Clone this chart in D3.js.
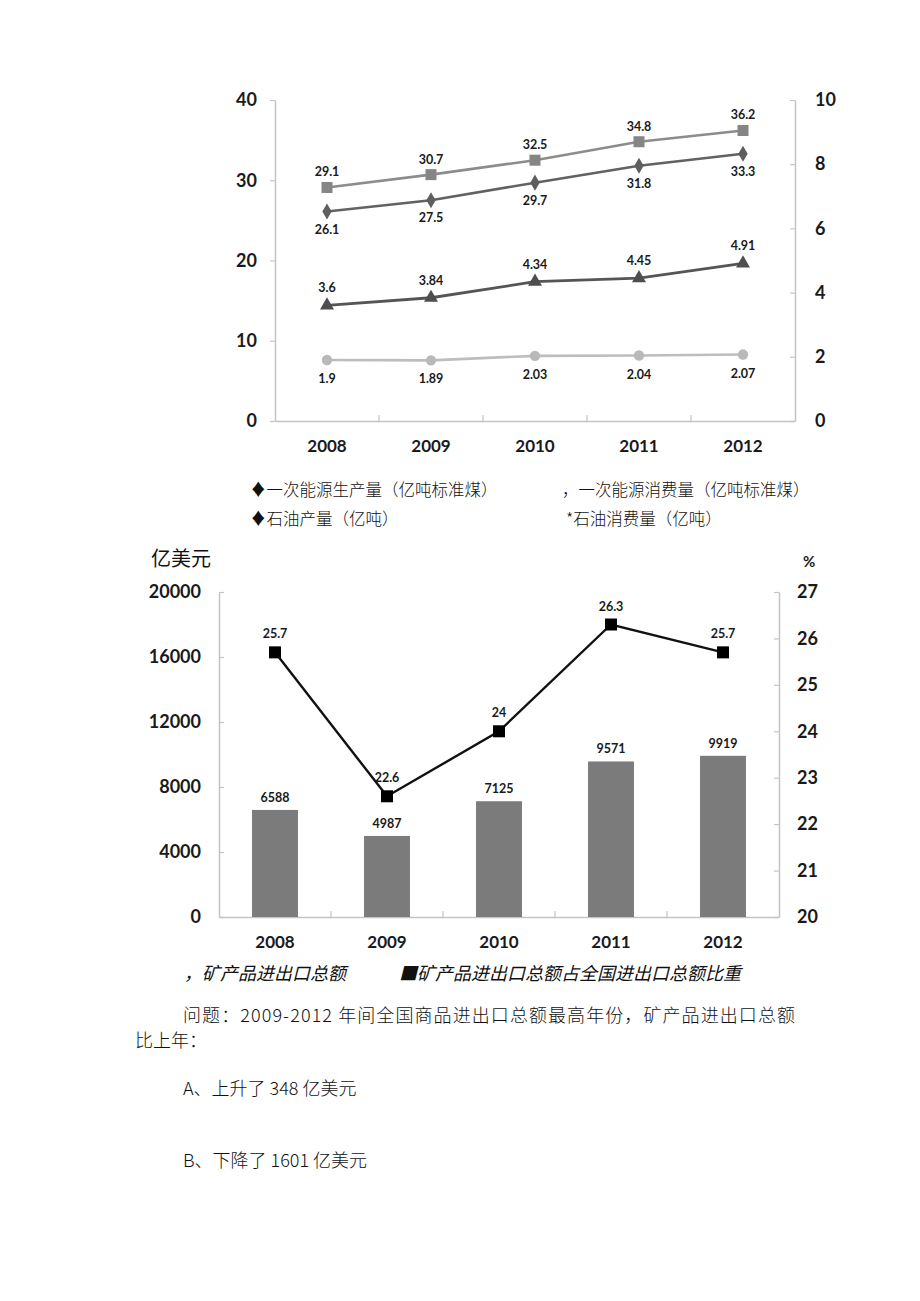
<!DOCTYPE html>
<html><head><meta charset="utf-8">
<script src="https://cdn.jsdelivr.net/npm/d3@7"></script>
<style>
body{margin:0;background:#fff;}
svg{display:block;}
.num{font-family:Lato,"Open Sans",sans-serif;font-weight:bold;fill:#1a1a1a;}
.cjk{font-family:"Noto Sans CJK SC",sans-serif;fill:#111;}
</style></head><body>
<script>
// ---------- data ----------
const years = ["2008","2009","2010","2011","2012"];
const energyConsumption = [29.1, 30.7, 32.5, 34.8, 36.2];   // squares, left axis
const energyProduction  = [26.1, 27.5, 29.7, 31.8, 33.3];   // diamonds, left axis
const oilConsumption    = [3.6, 3.84, 4.34, 4.45, 4.91];    // triangles, right axis
const oilProduction     = [1.9, 1.89, 2.03, 2.04, 2.07];    // circles, right axis
const topLeftTicks  = [0, 10, 20, 30, 40];
const topRightTicks = [0, 2, 4, 6, 8, 10];

const mineralTrade = [6588, 4987, 7125, 9571, 9919];         // bars, left axis
const mineralShare = [25.7, 22.6, 24, 26.3, 25.7];           // line, right axis
const botLeftTicks  = [0, 4000, 8000, 12000, 16000, 20000];
const botRightTicks = [20, 21, 22, 23, 24, 25, 26, 27];

const W = 920, H = 1301;
const svg = d3.select("body").append("svg").attr("width", W).attr("height", H);
svg.append("rect").attr("width", W).attr("height", H).attr("fill", "#fff");

const axisCol = "#c4c4c4";
const fmtInt = d3.format("d");
function styleAxis(g, fs){
  g.select(".domain").attr("stroke", axisCol).attr("stroke-width", 1.5);
  g.selectAll(".tick line").attr("stroke", axisCol).attr("stroke-width", 1.2);
  g.selectAll(".tick text").attr("class","num").style("font-size", fs+"px").attr("fill","#1a1a1a");
}

// ---------- top chart ----------
const tx = d3.scaleBand().domain(years).range([275, 795]);
const tyL = d3.scaleLinear().domain([0, 40]).range([421, 100]);
const tyR = d3.scaleLinear().domain([0, 10]).range([421, 100]);
const cx = d => tx(d) + tx.bandwidth()/2;

const gL = svg.append("g").attr("transform","translate(275,0)")
  .call(d3.axisLeft(tyL).tickValues(topLeftTicks).tickFormat(fmtInt).tickSize(5).tickPadding(13).tickSizeOuter(0));
styleAxis(gL, 18);
const gR = svg.append("g").attr("transform","translate(795,0)")
  .call(d3.axisRight(tyR).tickValues(topRightTicks).tickFormat(fmtInt).tickSize(-5).tickPadding(20).tickSizeOuter(0));
styleAxis(gR, 18);
const gB = svg.append("g").attr("transform","translate(0,421)")
  .call(d3.axisBottom(tx).tickSize(0).tickPadding(19));
styleAxis(gB, 17);
gB.selectAll("line.bnd").data(years.slice(1)).enter().append("line")
  .attr("x1", d=>tx(d)).attr("x2", d=>tx(d)).attr("y1",0).attr("y2",-6)
  .attr("stroke", axisCol).attr("stroke-width",1.2);

function series(vals, yScale, col, lw){
  const line = d3.line().x((d,i)=>cx(years[i])).y(d=>yScale(d));
  svg.append("path").datum(vals).attr("d", line).attr("fill","none")
    .attr("stroke", col).attr("stroke-width", lw);
}
function labels(vals, yScale, dy){
  svg.append("g").selectAll("text").data(vals).enter().append("text")
    .attr("class","num").style("font-size","12.5px").attr("text-anchor","middle")
    .attr("x",(d,i)=>cx(years[i])).attr("y", d=>yScale(d)+dy).text(d=>d);
}

series(energyConsumption, tyL, "#8c8c8c", 2.6);
series(energyProduction, tyL, "#626262", 2.6);
series(oilConsumption, tyR, "#555555", 2.8);
series(oilProduction, tyR, "#bdbdbd", 2.6);

svg.append("g").selectAll("rect").data(energyConsumption).enter().append("rect")
  .attr("x",(d,i)=>cx(years[i])-5.5).attr("y",d=>tyL(d)-5.5).attr("width",11).attr("height",11)
  .attr("fill","#858585");
svg.append("g").selectAll("path").data(energyProduction).enter().append("path")
  .attr("d", d3.symbol().type(d3.symbolDiamond).size(75))
  .attr("transform",(d,i)=>`translate(${cx(years[i])},${tyL(d)})`).attr("fill","#5e5e5e");
svg.append("g").selectAll("path").data(oilConsumption).enter().append("path")
  .attr("d", d3.symbol().type(d3.symbolTriangle).size(85))
  .attr("transform",(d,i)=>`translate(${cx(years[i])},${tyR(d)})`).attr("fill","#4e4e4e");
svg.append("g").selectAll("circle").data(oilProduction).enter().append("circle")
  .attr("cx",(d,i)=>cx(years[i])).attr("cy",d=>tyR(d)).attr("r",5.2).attr("fill","#b9b9b9");

labels(energyConsumption, tyL, -11);
labels(energyProduction, tyL, 22);
labels(oilConsumption, tyR, -13);
labels(oilProduction, tyR, 23);

const legTop = [
  ["♦一次能源生产量（亿吨标准煤）", 250, 496],
  ["，一次能源消费量（亿吨标准煤）", 562, 496],
  ["♦石油产量（亿吨）", 250, 525],
  ["*石油消费量（亿吨）", 566, 525]
];
svg.append("g").selectAll("text").data(legTop).enter().append("text")
  .attr("class","cjk").style("font-size","16.5px").style("font-weight","300")
  .attr("x",d=>d[1]).attr("y",d=>d[2]).text(d=>d[0]);

// ---------- bottom chart ----------
const bx = d3.scaleBand().domain(years).range([219, 779]).paddingInner(0.59).paddingOuter(0.295);
const bxc = d3.scaleBand().domain(years).range([219, 779]);
const byL = d3.scaleLinear().domain([0, 20000]).range([917, 592]);
const byR = d3.scaleLinear().domain([20, 27]).range([917, 592]);
const bcx = d => bxc(d) + bxc.bandwidth()/2;

svg.append("text").attr("class","cjk").style("font-size","20px").attr("x",151).attr("y",566).text("亿美元");
svg.append("text").attr("class","num").style("font-size","15px").attr("x",803).attr("y",567).text("%");

const bL = svg.append("g").attr("transform","translate(219,0)")
  .call(d3.axisLeft(byL).tickValues(botLeftTicks).tickFormat(fmtInt).tickSize(-5).tickPadding(18).tickSizeOuter(0));
styleAxis(bL, 18);
const bR = svg.append("g").attr("transform","translate(779,0)")
  .call(d3.axisRight(byR).tickValues(botRightTicks).tickFormat(fmtInt).tickSize(-5).tickPadding(18).tickSizeOuter(0));
styleAxis(bR, 18);
const bB = svg.append("g").attr("transform","translate(0,917)")
  .call(d3.axisBottom(bxc).tickSize(0).tickPadding(19));
styleAxis(bB, 17);
bB.selectAll("line.bnd").data(years.slice(1)).enter().append("line")
  .attr("x1", d=>bxc(d)).attr("x2", d=>bxc(d)).attr("y1",0).attr("y2",-6)
  .attr("stroke", axisCol).attr("stroke-width",1.2);

svg.append("g").selectAll("rect").data(mineralTrade).enter().append("rect")
  .attr("x",(d,i)=>bx(years[i])).attr("width",bx.bandwidth())
  .attr("y",d=>byL(d)).attr("height",d=>917-byL(d)).attr("fill","#7b7b7b");
svg.append("g").selectAll("text").data(mineralTrade).enter().append("text")
  .attr("class","num").style("font-size","12.5px").attr("text-anchor","middle")
  .attr("x",(d,i)=>bcx(years[i])).attr("y",d=>byL(d)-8).text(d=>d);

const sLine = d3.line().x((d,i)=>bcx(years[i])).y(d=>byR(d));
svg.append("path").datum(mineralShare).attr("d", sLine).attr("fill","none")
  .attr("stroke","#111").attr("stroke-width",2.4);
svg.append("g").selectAll("rect").data(mineralShare).enter().append("rect")
  .attr("x",(d,i)=>bcx(years[i])-6).attr("y",d=>byR(d)-6).attr("width",12).attr("height",12)
  .attr("fill","#000");
svg.append("g").selectAll("text").data(mineralShare).enter().append("text")
  .attr("class","num").style("font-size","12.5px").attr("text-anchor","middle")
  .attr("x",(d,i)=>bcx(years[i])).attr("y",d=>byR(d)-14).text(d=>d);

svg.append("text").attr("class","cjk").style("font-size","18px").style("font-style","italic").style("font-weight","400")
  .attr("x",184).attr("y",980).text("，矿产品进出口总额");
svg.append("text").attr("class","cjk").style("font-size","18px").style("font-style","italic").style("font-weight","400")
  .attr("x",399).attr("y",980).text("■矿产品进出口总额占全国进出口总额比重");

const qLines = [
  ["问题：2009-2012 年间全国商品进出口总额最高年份，矿产品进出口总额", 183, 1022, 612],
  ["比上年：", 135, 1047, 0],
  ["A、上升了 348 亿美元", 183, 1095, 0],
  ["B、下降了 1601 亿美元", 183, 1167, 0]
];
svg.append("g").selectAll("text").data(qLines).enter().append("text")
  .attr("class","cjk").style("font-size","18px").style("font-weight","300")
  .attr("x",d=>d[1]).attr("y",d=>d[2])
  .each(function(d){ if(d[3]) d3.select(this).attr("textLength",d[3]).attr("lengthAdjust","spacing"); })
  .text(d=>d[0]);
</script>
</body></html>
